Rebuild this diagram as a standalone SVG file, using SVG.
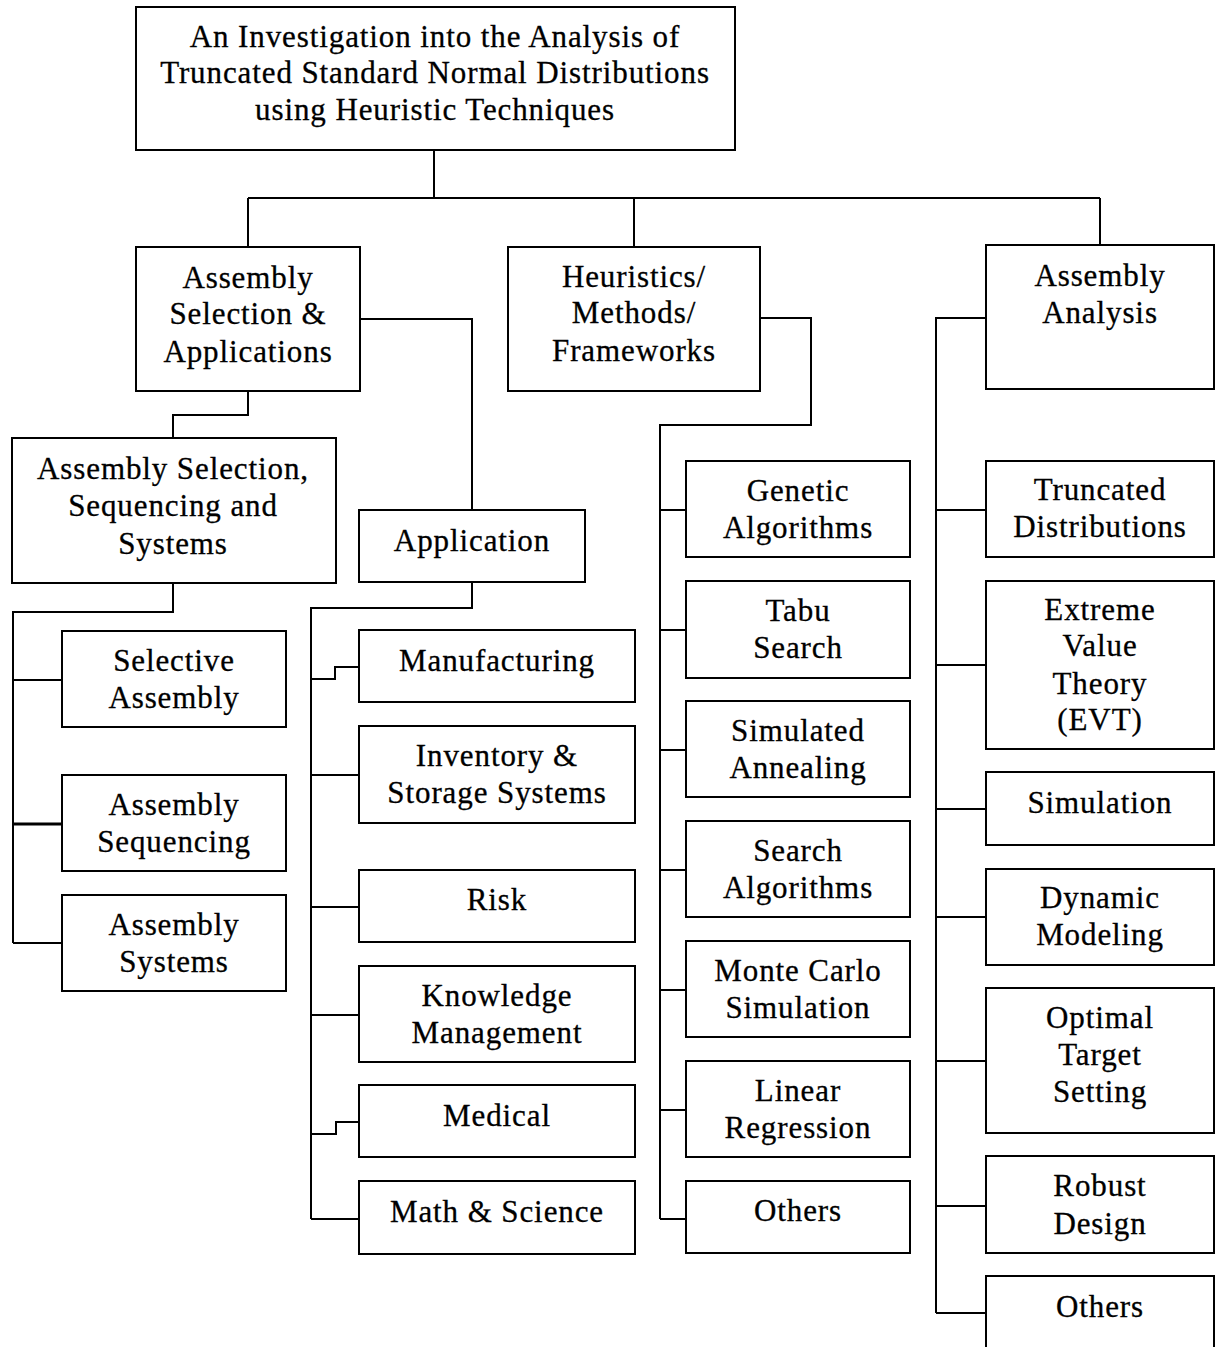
<svg xmlns="http://www.w3.org/2000/svg" width="1218" height="1347" viewBox="0 0 1218 1347">
<style>
.b{fill:#fff;stroke:#000;stroke-width:2}
.t{font-family:"Liberation Serif","Times New Roman",serif;font-size:31px;letter-spacing:0.9px;text-anchor:middle;fill:#000;stroke:#000;stroke-width:0.3}
.c{fill:none;stroke:#000;stroke-width:2}
</style>
<rect width="1218" height="1347" fill="#fff"/>
<g id="connectors" class="c">
<path d="M434 150V198M248 198H1100M248 198V247M634 198V247M1100 198V245"/>
<path d="M360 319H472V510"/>
<path d="M248 391V415H173V438"/>
<path d="M173 583V612H13V943M13 680H62M13 943H62"/>
<path d="M13 824H62" stroke-width="3"/>
<path d="M472 582V608H311V1219M311 679H335V667H359M311 775H359M311 907H359M311 1015H359M311 1134H336V1122H359M311 1219H359"/>
<path d="M760 318H811V425H660V1219M660 510H686M660 630H686M660 750H686M660 870H686M660 990H686M660 1110H686M660 1219H686"/>
<path d="M986 318H936V1313M936 510H986M936 665H986M936 809H986M936 917H986M936 1061H986M936 1206H986M936 1313H986"/>
</g>
<g id="root"><rect class="b" x="136" y="7" width="599" height="143"/><text class="t" x="435" y="47">An Investigation into the Analysis of</text><text class="t" x="435" y="83">Truncated Standard Normal Distributions</text><text class="t" x="435" y="120">using Heuristic Techniques</text></g>
<g id="asa"><rect class="b" x="136" y="247" width="224" height="144"/><text class="t" x="248" y="288">Assembly</text><text class="t" x="248" y="324">Selection &amp;</text><text class="t" x="248" y="362">Applications</text></g>
<g id="heur"><rect class="b" x="508" y="247" width="252" height="144"/><text class="t" x="634" y="287">Heuristics/</text><text class="t" x="634" y="323">Methods/</text><text class="t" x="634" y="361">Frameworks</text></g>
<g id="aa"><rect class="b" x="986" y="245" width="228" height="144"/><text class="t" x="1100" y="286">Assembly</text><text class="t" x="1100" y="323">Analysis</text></g>
<g id="asss"><rect class="b" x="12" y="438" width="324" height="145"/><text class="t" x="173" y="479">Assembly Selection,</text><text class="t" x="173" y="516">Sequencing and</text><text class="t" x="173" y="554">Systems</text></g>
<g id="sel"><rect class="b" x="62" y="631" width="224" height="96"/><text class="t" x="174" y="671">Selective</text><text class="t" x="174" y="708">Assembly</text></g>
<g id="seq"><rect class="b" x="62" y="775" width="224" height="96"/><text class="t" x="174" y="815">Assembly</text><text class="t" x="174" y="852">Sequencing</text></g>
<g id="sys"><rect class="b" x="62" y="895" width="224" height="96"/><text class="t" x="174" y="935">Assembly</text><text class="t" x="174" y="972">Systems</text></g>
<g id="app"><rect class="b" x="359" y="510" width="226" height="72"/><text class="t" x="472" y="551">Application</text></g>
<g id="man"><rect class="b" x="359" y="630" width="276" height="72"/><text class="t" x="497" y="671">Manufacturing</text></g>
<g id="inv"><rect class="b" x="359" y="726" width="276" height="97"/><text class="t" x="497" y="766">Inventory &amp;</text><text class="t" x="497" y="803">Storage Systems</text></g>
<g id="risk"><rect class="b" x="359" y="870" width="276" height="72"/><text class="t" x="497" y="910">Risk</text></g>
<g id="km"><rect class="b" x="359" y="966" width="276" height="96"/><text class="t" x="497" y="1006">Knowledge</text><text class="t" x="497" y="1043">Management</text></g>
<g id="med"><rect class="b" x="359" y="1085" width="276" height="72"/><text class="t" x="497" y="1126">Medical</text></g>
<g id="math"><rect class="b" x="359" y="1181" width="276" height="73"/><text class="t" x="497" y="1222">Math &amp; Science</text></g>
<g id="ga"><rect class="b" x="686" y="461" width="224" height="96"/><text class="t" x="798" y="501">Genetic</text><text class="t" x="798" y="538">Algorithms</text></g>
<g id="tabu"><rect class="b" x="686" y="581" width="224" height="97"/><text class="t" x="798" y="621">Tabu</text><text class="t" x="798" y="658">Search</text></g>
<g id="sa"><rect class="b" x="686" y="701" width="224" height="96"/><text class="t" x="798" y="741">Simulated</text><text class="t" x="798" y="778">Annealing</text></g>
<g id="search"><rect class="b" x="686" y="821" width="224" height="96"/><text class="t" x="798" y="861">Search</text><text class="t" x="798" y="898">Algorithms</text></g>
<g id="mc"><rect class="b" x="686" y="941" width="224" height="96"/><text class="t" x="798" y="981">Monte Carlo</text><text class="t" x="798" y="1018">Simulation</text></g>
<g id="lr"><rect class="b" x="686" y="1061" width="224" height="96"/><text class="t" x="798" y="1101">Linear</text><text class="t" x="798" y="1138">Regression</text></g>
<g id="oth1"><rect class="b" x="686" y="1181" width="224" height="72"/><text class="t" x="798" y="1221">Others</text></g>
<g id="td"><rect class="b" x="986" y="461" width="228" height="96"/><text class="t" x="1100" y="500">Truncated</text><text class="t" x="1100" y="537">Distributions</text></g>
<g id="evt"><rect class="b" x="986" y="581" width="228" height="168"/><text class="t" x="1100" y="620">Extreme</text><text class="t" x="1100" y="656">Value</text><text class="t" x="1100" y="694">Theory</text><text class="t" x="1100" y="730">(EVT)</text></g>
<g id="sim"><rect class="b" x="986" y="772" width="228" height="73"/><text class="t" x="1100" y="813">Simulation</text></g>
<g id="dm"><rect class="b" x="986" y="869" width="228" height="96"/><text class="t" x="1100" y="908">Dynamic</text><text class="t" x="1100" y="945">Modeling</text></g>
<g id="ots"><rect class="b" x="986" y="988" width="228" height="145"/><text class="t" x="1100" y="1028">Optimal</text><text class="t" x="1100" y="1065">Target</text><text class="t" x="1100" y="1102">Setting</text></g>
<g id="rd"><rect class="b" x="986" y="1156" width="228" height="97"/><text class="t" x="1100" y="1196">Robust</text><text class="t" x="1100" y="1234">Design</text></g>
<g id="oth2"><rect class="b" x="986" y="1276" width="228" height="90"/><text class="t" x="1100" y="1317">Others</text></g>
</svg>
